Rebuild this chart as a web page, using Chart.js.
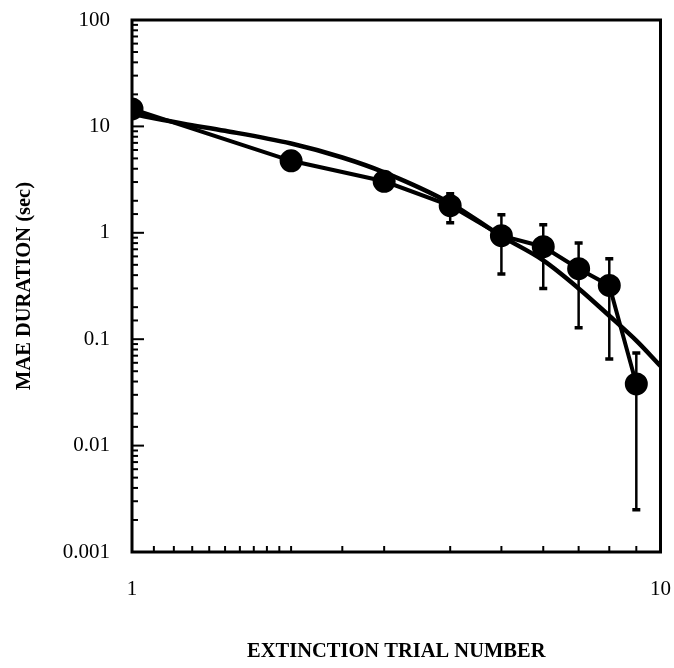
<!DOCTYPE html>
<html>
<head>
<meta charset="utf-8">
<script src="https://cdn.jsdelivr.net/npm/chart.js@4/dist/chart.umd.min.js"></script>
<style>
  html, body { margin: 0; padding: 0; background: #fff; overflow: hidden; }
  #wrap { width: 674px; height: 668px; }
</style>
</head>
<body>
<div id="wrap"><canvas id="maeChart"></canvas></div>
<script>
// trial numbers and mean MAE duration (sec)
const trials = [1, 2, 3, 4, 5, 6, 7, 8, 9];
const maeMean = [14.6, 4.75, 3.05, 1.8, 0.94, 0.74, 0.46, 0.32, 0.038];
// error bar ends (null = no visible bar)
const errHigh = [null, null, null, 2.33, 1.48, 1.19, 0.80, 0.57, 0.074];
const errLow  = [null, null, null, 1.24, 0.41, 0.30, 0.128, 0.065, 0.0025];

// smooth fitted curve, sampled from the figure
const fitX = [1, 1.25, 1.5, 2, 2.5, 3, 4, 5, 6, 7, 8, 9, 10];
const fitY = [13.1, 10.6, 9.1, 6.9, 5.1, 3.7, 1.9, 0.93, 0.55, 0.30, 0.166, 0.097, 0.056];

const yTickLabels = ['0.001', '0.01', '0.1', '1', '10', '100'];
const xTickLabels = ['1', '10'];

const serif = "'Liberation Serif', 'DejaVu Serif', serif";

function isDecade(v) {
    const l = Math.log10(v);
    return Math.abs(l - Math.round(l)) < 1e-6;
}

// box around the plot + inward tick marks + error bars
const frame = {
    id: 'frame',
    beforeDatasetsDraw(chart) {
        const { ctx, chartArea: a, scales } = chart;
        ctx.save();
        ctx.strokeStyle = '#000';
        ctx.lineWidth = 3;
        ctx.strokeRect(a.left, a.top, a.right - a.left, a.bottom - a.top);

        ctx.lineWidth = 2;
        scales.y.ticks.forEach(t => {
            const py = scales.y.getPixelForValue(t.value);
            const len = isDecade(t.value) ? 12 : 6;
            ctx.beginPath();
            ctx.moveTo(a.left, py);
            ctx.lineTo(a.left + len, py);
            ctx.stroke();
        });
        scales.x.ticks.forEach(t => {
            const px = scales.x.getPixelForValue(t.value);
            ctx.beginPath();
            ctx.moveTo(px, a.bottom);
            ctx.lineTo(px, a.bottom - 6);
            ctx.stroke();
        });

        // error bars
        ctx.lineWidth = 2.5;
        trials.forEach((t, i) => {
            if (errHigh[i] == null) return;
            const px = scales.x.getPixelForValue(t);
            const hi = scales.y.getPixelForValue(errHigh[i]);
            const lo = scales.y.getPixelForValue(errLow[i]);
            ctx.beginPath();
            ctx.moveTo(px, hi);
            ctx.lineTo(px, lo);
            ctx.stroke();
            ctx.lineWidth = 3.5;
            ctx.beginPath();
            ctx.moveTo(px - 4, hi);
            ctx.lineTo(px + 4, hi);
            ctx.moveTo(px - 4, lo);
            ctx.lineTo(px + 4, lo);
            ctx.stroke();
            ctx.lineWidth = 2.5;
        });
        ctx.restore();
    }
};

const ctx = document.getElementById('maeChart').getContext('2d');
const maeChart = new Chart(ctx, {
    type: 'scatter',
    data: {
        datasets: [{
            label: 'fit',
            data: fitX.map((x, i) => ({ x: x, y: fitY[i] })),
            showLine: true,
            borderColor: '#000',
            borderWidth: 4.5,
            pointRadius: 0,
            cubicInterpolationMode: 'monotone'
        }, {
            label: 'MAE',
            data: trials.map((x, i) => ({ x: x, y: maeMean[i] })),
            showLine: true,
            borderColor: '#000',
            backgroundColor: '#000',
            borderWidth: 4,
            pointRadius: 9.5,
            pointHoverRadius: 9.5,
            tension: 0
        }]
    },
    options: {
        responsive: true,
        maintainAspectRatio: false,
        animation: false,
        events: [],
        layout: { padding: { left: 0, right: 10, top: 20, bottom: 0 } },
        plugins: {
            legend: { display: false },
            tooltip: { enabled: false }
        },
        scales: {
            x: {
                type: 'logarithmic',
                min: 1,
                max: 10,
                grid: { display: false, drawTicks: false },
                border: { display: false },
                ticks: {
                    autoSkip: false,
                    maxRotation: 0,
                    padding: 25,
                    color: '#000',
                    font: { family: serif, size: 21 },
                    callback: v => isDecade(v) ? xTickLabels[Math.round(Math.log10(v))] : ''
                },
                title: {
                    display: true,
                    text: 'EXTINCTION TRIAL NUMBER',
                    color: '#000',
                    font: { family: serif, size: 20.5, weight: 'bold' },
                    padding: { top: 0, bottom: 4 }
                },
                afterFit: s => {
                    s.height = 116;
                    s.paddingLeft = 0; s.paddingRight = 0;
                    s.paddingTop = 0; s.paddingBottom = 0;
                }
            },
            y: {
                type: 'logarithmic',
                min: 0.001,
                max: 100,
                grid: { display: false, drawTicks: false },
                border: { display: false },
                ticks: {
                    autoSkip: false,
                    padding: 22,
                    color: '#000',
                    font: { family: serif, size: 21 },
                    callback: v => isDecade(v) ? yTickLabels[Math.round(Math.log10(v)) + 3] : ''
                },
                title: {
                    display: true,
                    text: 'MAE DURATION (sec)',
                    color: '#000',
                    font: { family: serif, size: 20.5, weight: 'bold' },
                    padding: { top: 12, bottom: 0 }
                },
                afterFit: s => {
                    s.width = 132;
                    s.paddingLeft = 0; s.paddingRight = 0;
                    s.paddingTop = 0; s.paddingBottom = 0;
                }
            }
        }
    },
    plugins: [frame]
});
</script>
</body>
</html>
